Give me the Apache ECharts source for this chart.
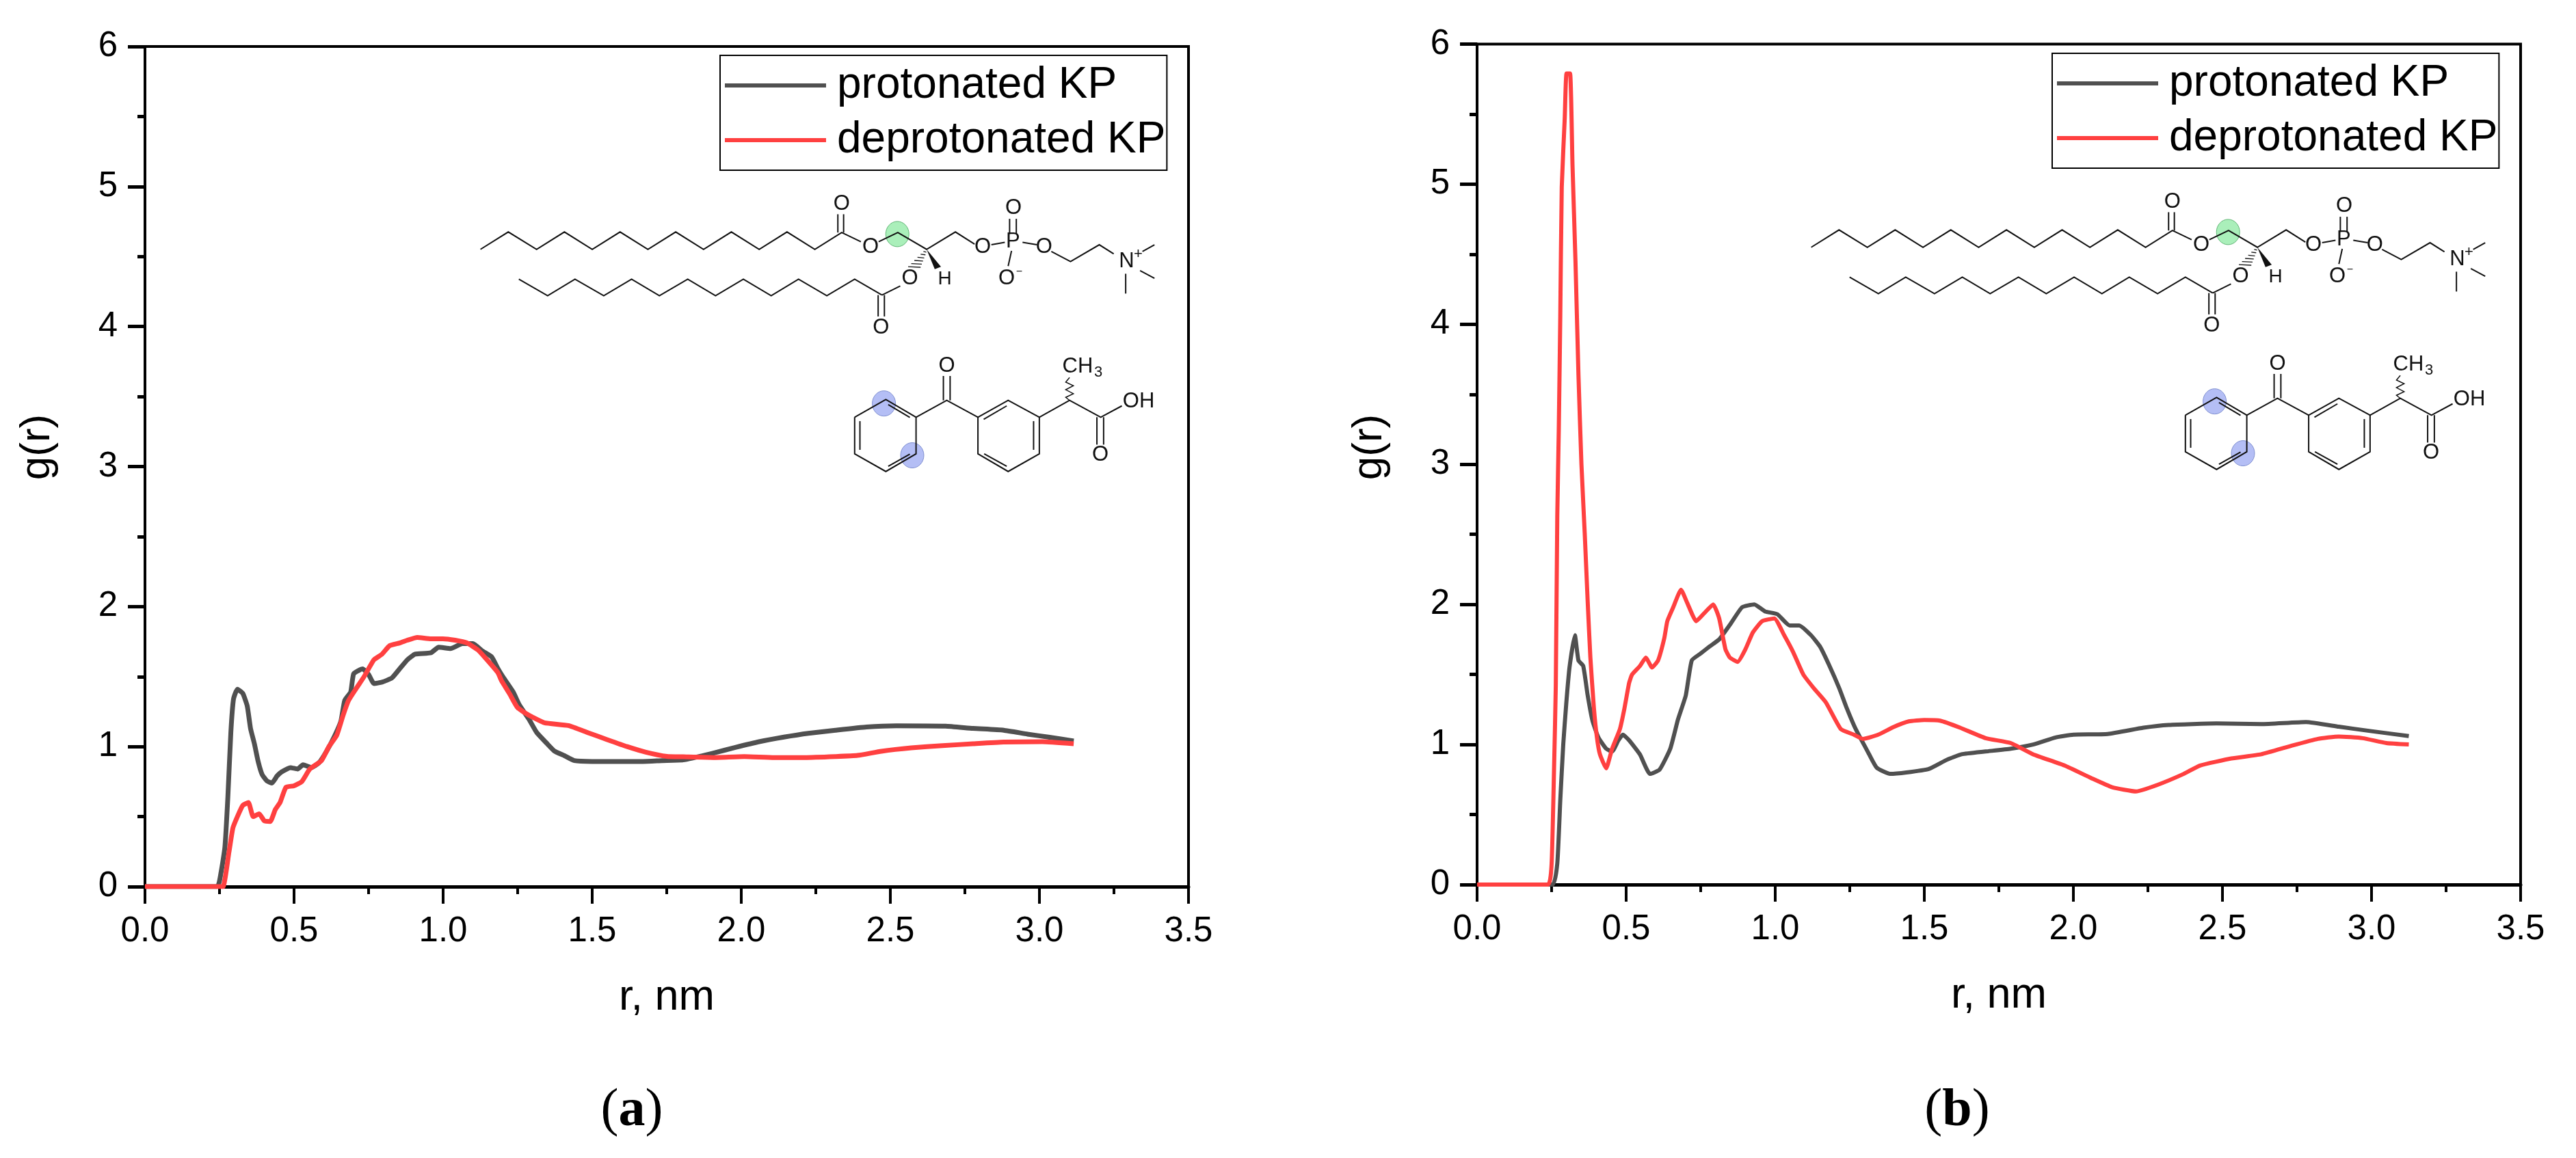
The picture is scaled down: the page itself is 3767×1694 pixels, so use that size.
<!DOCTYPE html>
<html><head><meta charset="utf-8">
<style>html,body{margin:0;padding:0;background:#fff}#c{width:3767px;height:1694px}</style>
<script src="https://cdn.jsdelivr.net/npm/echarts@6/dist/echarts.min.js"></script>
</head><body><div id="c"></div>
<script>
const seriesNames = ['protonated KP', 'deprotonated KP'];
const xTickMax = 3.5, yTickMax = 6;

const rGreyA = [0,0.242,0.255,0.268,0.278,0.288,0.297,0.31,0.328,0.343,0.354,0.367,0.38,0.393,0.409,0.426,0.443,0.459,0.488,0.512,0.53,0.558,0.584,0.61,0.637,0.657,0.67,0.69,0.70,0.73,0.75,0.768,0.795,0.828,0.854,0.88,0.906,0.959,0.985,1.025,1.065,1.10,1.13,1.163,1.183,1.2,1.235,1.255,1.288,1.314,1.347,1.374,1.407,1.44,1.5,1.58,1.67,1.735,1.805,1.907,1.98,2.06,2.143,2.225,2.316,2.42,2.52,2.685,2.777,2.88,2.96,3.03,3.115];
const gGreyA = [0,0,0.1,0.28,0.64,1.1,1.34,1.41,1.38,1.29,1.13,1.02,0.89,0.8,0.755,0.74,0.79,0.82,0.85,0.84,0.87,0.85,0.885,0.97,1.08,1.18,1.33,1.39,1.52,1.555,1.515,1.45,1.46,1.49,1.555,1.62,1.66,1.67,1.71,1.7,1.735,1.735,1.685,1.64,1.56,1.5,1.39,1.3,1.195,1.1,1.025,0.967,0.935,0.9,0.894,0.894,0.894,0.9,0.905,0.954,0.994,1.035,1.068,1.095,1.117,1.14,1.149,1.146,1.13,1.117,1.089,1.068,1.04];
const rRedA = [0,0.25,0.262,0.282,0.295,0.312,0.328,0.347,0.363,0.383,0.40,0.42,0.437,0.453,0.473,0.5,0.526,0.553,0.592,0.617,0.643,0.664,0.683,0.71,0.735,0.768,0.795,0.82,0.854,0.88,0.913,0.959,0.999,1.04,1.08,1.117,1.143,1.183,1.196,1.222,1.249,1.275,1.30,1.34,1.42,1.485,1.55,1.617,1.68,1.75,1.805,1.907,2.01,2.11,2.214,2.316,2.39,2.47,2.57,2.675,2.777,2.88,3.01,3.115];
const gRedA = [0,0,0,0.25,0.42,0.51,0.58,0.6,0.5,0.52,0.47,0.465,0.55,0.6,0.71,0.72,0.75,0.84,0.9,1,1.08,1.22,1.33,1.42,1.5,1.62,1.66,1.72,1.74,1.76,1.78,1.77,1.77,1.76,1.74,1.69,1.63,1.53,1.47,1.38,1.28,1.24,1.21,1.17,1.15,1.1,1.05,1,0.96,0.93,0.927,0.922,0.929,0.922,0.922,0.929,0.937,0.967,0.991,1.007,1.02,1.032,1.035,1.02];
const rGreyB = [0,0.253,0.269,0.279,0.289,0.299,0.31,0.328,0.34,0.356,0.371,0.387,0.407,0.433,0.453,0.474,0.489,0.51,0.546,0.58,0.612,0.648,0.674,0.70,0.72,0.75,0.78,0.812,0.853,0.889,0.93,0.966,1.007,1.048,1.08,1.12,1.15,1.18,1.215,1.238,1.27,1.31,1.34,1.385,1.44,1.515,1.575,1.625,1.706,1.79,1.865,1.94,2.0,2.115,2.235,2.32,2.48,2.63,2.78,2.89,3.0,3.125];
const gGreyB = [0,0,0.15,0.6,1,1.29,1.55,1.78,1.6,1.56,1.35,1.17,1.05,0.97,0.95,1.03,1.07,1.03,0.93,0.79,0.82,0.97,1.18,1.35,1.6,1.65,1.7,1.75,1.87,1.98,2,1.95,1.93,1.85,1.85,1.78,1.7,1.57,1.4,1.27,1.11,0.95,0.835,0.79,0.8,0.825,0.89,0.93,0.95,0.97,1,1.05,1.07,1.075,1.12,1.14,1.15,1.145,1.16,1.127,1.095,1.06];
const rRedB = [0,0.238,0.25,0.258,0.264,0.269,0.274,0.279,0.284,0.294,0.30,0.312,0.32,0.33,0.34,0.35,0.361,0.371,0.38,0.392,0.402,0.412,0.433,0.453,0.479,0.494,0.51,0.52,0.546,0.566,0.587,0.607,0.628,0.638,0.658,0.684,0.705,0.735,0.761,0.792,0.812,0.833,0.848,0.874,0.90,0.925,0.956,0.997,1.03,1.06,1.094,1.13,1.17,1.22,1.264,1.294,1.345,1.397,1.448,1.5,1.553,1.62,1.706,1.79,1.865,1.97,2.06,2.13,2.21,2.28,2.37,2.425,2.53,2.63,2.73,2.82,2.89,2.97,3.05,3.125];
const gRedB = [0,0,0.15,0.81,1.42,2.63,3.24,4.05,4.98,5.47,5.79,5.79,5.14,4.45,3.64,3,2.51,2.02,1.62,1.255,1.05,0.93,0.83,0.97,1.11,1.255,1.44,1.5,1.56,1.62,1.55,1.6,1.76,1.88,1.98,2.105,2.01,1.88,1.935,2,1.9,1.68,1.62,1.59,1.68,1.8,1.88,1.9,1.78,1.66,1.5,1.4,1.3,1.11,1.07,1.04,1.07,1.125,1.165,1.175,1.17,1.12,1.045,1.01,0.93,0.85,0.76,0.695,0.665,0.71,0.79,0.85,0.9,0.93,0.99,1.04,1.057,1.045,1.01,1];

const zip = (a, b) => a.map((v, i) => [v, b[i]]);
const FONT = '"Liberation Sans", Arial, sans-serif';
const GREY = '#505050', RED = '#ff4040';

function mkSeries(name, r, g, color, idx, w) {
  return { name, type: 'line', data: zip(r, g), xAxisIndex: idx, yAxisIndex: idx, showSymbol: false, smooth: 0.15,
    symbol: 'none', lineStyle: { color, width: w, join: 'round' }, itemStyle: { color }, animation: false };
}
function xAxis(idx) {
  return { type: 'value', gridIndex: idx, min: 0, max: xTickMax, interval: 0.5, splitLine: { show: false },
    axisLine: { show: true, onZero: false, lineStyle: { color: '#000', width: 5 } },
    axisTick: { length: 25, lineStyle: { color: '#000', width: 4 } },
    minorTick: { show: true, splitNumber: 2, length: 11, lineStyle: { color: '#000', width: 4 } },
    axisLabel: { fontFamily: FONT, fontSize: 51, color: '#000', margin: 40, formatter: v => v.toFixed(1), showMaxLabel: true, hideOverlap: false },
    name: 'r, nm', nameLocation: 'middle', nameGap: 131, nameTextStyle: { fontFamily: FONT, fontSize: 63, color: '#000' } };
}
function yAxis(idx) {
  return { type: 'value', gridIndex: idx, min: 0, max: yTickMax, interval: 1, splitLine: { show: false },
    axisLine: { show: true, onZero: false, lineStyle: { color: '#000', width: 4 } },
    axisTick: { length: 25, lineStyle: { color: '#000', width: 5 } },
    minorTick: { show: true, splitNumber: 2, length: 11, lineStyle: { color: '#000', width: 5 } },
    axisLabel: { fontFamily: FONT, fontSize: 51, color: '#000', margin: 40 } };
}
function legend(left, top) {
  return { left, top, orient: 'vertical', selectedMode: false, icon: 'rect', itemWidth: 148, itemHeight: 6, itemGap: 16,
    padding: [12, 2, 12, 7], borderColor: '#000', borderWidth: 2, backgroundColor: '#fff', data: seriesNames,
    textStyle: { fontFamily: FONT, fontSize: 64, color: '#000', padding: [0, 0, 0, 11] } };
}

/* molecule sketch: coordinates are in the drawing's own frame */
const INK = '#111';
function molecule(ox, oy) {
  const X = v => ox + v / 1.4255, Y = v => oy + v / 2.24, out = [];
  const L = (pts, w) => out.push({ type: 'polyline', z: 20, shape: { points: pts.map(p => [X(p[0]), Y(p[1])]) },
    style: { stroke: INK, lineWidth: w || 2, fill: null, lineJoin: 'miter' } });
  const T = (t, x, y, s) => out.push({ type: 'text', z: 21, x: X(x), y: Y(y),
    style: { text: t, fontFamily: FONT, fontSize: s || 31, fill: INK, align: 'center', verticalAlign: 'middle' } });
  const E = (x, y, fill, stroke) => out.push({ type: 'ellipse', z: 19, shape: { cx: X(x), cy: Y(y), rx: 17, ry: 18.5 },
    style: { fill, stroke, lineWidth: 1 } });
  const G = 'rgba(100,225,130,0.55)', B = 'rgba(105,125,235,0.5)';
  E(944, 655, G, '#5fb574'); E(916, 1210, B, '#7f8fd0'); E(975, 1380, B, '#7f8fd0');
  L([[75,705],[133,648],[192,705],[250,648],[308,705],[366,648],[424,705],[482,648],[540,705],[598,648],[656,705],[714,648],[772,705],[828,650],[868,680]]);
  L([[905,680],[945,650],[1005,705],[1065,648],[1105,688]]);
  L([[820,650],[820,590]]); L([[832,650],[832,590]]);
  T('O', 828, 557); T('O', 888, 697); T('O', 1122, 697); T('P', 1185, 680); T('O', 1250, 697); T('O', 1172, 800); T('\u2212', 1198, 778, 16);
  L([[1140,690],[1168,682]]); L([[1205,682],[1235,690]]);
  L([[1265,712],[1305,745],[1365,690],[1395,720]]);
  T('N', 1422, 745); T('+', 1446, 722, 22);
  L([[1455,712],[1480,690]]); L([[1450,775],[1480,800]]); L([[1420,785],[1420,850]]);
  L([[1178,655],[1178,605]]); L([[1192,655],[1192,605]]); T('O', 1186, 570);
  L([[1182,710],[1175,760]]);
  [[.12,3],[.25,5],[.4,7],[.55,9],[.7,11],[.85,13]].forEach(h => {
    const cx = 1005 - 30 * h[0], cy = 705 + 68 * h[0];
    L([[cx - h[1], cy - 1], [cx + h[1], cy + 1]], 1.3);
  });
  out.push({ type: 'polygon', z: 20, shape: { points: [[X(1005),Y(705)],[X(1022),Y(770)],[X(1035),Y(762)]] }, style: { fill: INK } });
  T('O', 970, 800); T('H', 1043, 803, 28);
  L([[950,825],[912,855]]);
  L([[155,803],[215,857],[272,803],[332,857],[390,803],[448,857],[507,803],[565,857],[623,803],[681,857],[738,803],[797,857],[855,803],[912,855]]);
  L([[904,855],[904,925]]); L([[917,855],[917,925]]); T('O', 910, 962);
  L([[855,1255],[920,1197],[983,1255],[983,1375],[920,1433],[855,1375],[855,1255]]);
  L([[866,1268],[866,1362]]); L([[925,1214],[970,1256]]); L([[925,1416],[970,1376]]);
  L([[983,1255],[1047,1200],[1112,1255]]);
  L([[1040,1200],[1040,1120]]); L([[1054,1200],[1054,1120]]); T('O', 1047, 1088);
  L([[1112,1255],[1175,1200],[1240,1255],[1240,1375],[1175,1433],[1112,1375],[1112,1255]]);
  L([[1124,1262],[1172,1218]]); L([[1228,1268],[1228,1362]]); L([[1125,1375],[1172,1416]]);
  L([[1240,1255],[1303,1200],[1368,1255],[1412,1218]]);
  T('OH', 1447, 1205); L([[1360,1255],[1360,1345]]); L([[1374,1255],[1374,1345]]); T('O', 1367, 1378);
  L([[1303,1200],[1295,1190],[1311,1178],[1295,1165],[1311,1152],[1295,1140],[1303,1125]], 1.5);
  T('CH', 1320, 1090); T('3', 1363, 1108, 22);
  return out;
}
function caption(letter, left) {
  return { text: '({b|' + letter + '})', left, top: 1582, textAlign: 'center',
    textStyle: { fontFamily: '"Liberation Serif", serif', fontSize: 78, fontWeight: 'normal', color: '#000',
      rich: { b: { fontFamily: '"Liberation Serif", serif', fontSize: 78, fontWeight: 'bold', color: '#000' } } } };
}
function yName(x, y) {
  return { type: 'text', x, y, rotation: Math.PI / 2, style: { text: 'g(r)', fontFamily: FONT, fontSize: 62, fill: '#000', align: 'center', verticalAlign: 'middle' } };
}

const chart = echarts.init(document.getElementById('c'), null, { renderer: 'canvas' });
chart.setOption({
  animation: false, backgroundColor: '#fff',
  title: [caption('a', 919), caption('b', 2857)],
  grid: [
    { left: 212, top: 68, width: 1526, height: 1229, show: true, borderColor: '#000', borderWidth: 4, backgroundColor: 'transparent' },
    { left: 2160, top: 64.5, width: 1526, height: 1229.5, show: true, borderColor: '#000', borderWidth: 4, backgroundColor: 'transparent' }
  ],
  xAxis: [xAxis(0), xAxis(1)], yAxis: [yAxis(0), yAxis(1)],
  legend: [legend(1053, 81), legend(3001, 78)],
  series: [
    mkSeries(seriesNames[0], rGreyA, gGreyA, GREY, 0, 7),
    mkSeries(seriesNames[1], rRedA, gRedA, RED, 0, 7),
    mkSeries(seriesNames[0], rGreyB, gGreyB, GREY, 1, 6),
    mkSeries(seriesNames[1], rRedB, gRedB, RED, 1, 6)
  ],
  graphic: { elements: [...molecule(650, 50), ...molecule(2596, 47), yName(55, 654), yName(2003, 654)] }
});
</script></body></html>
